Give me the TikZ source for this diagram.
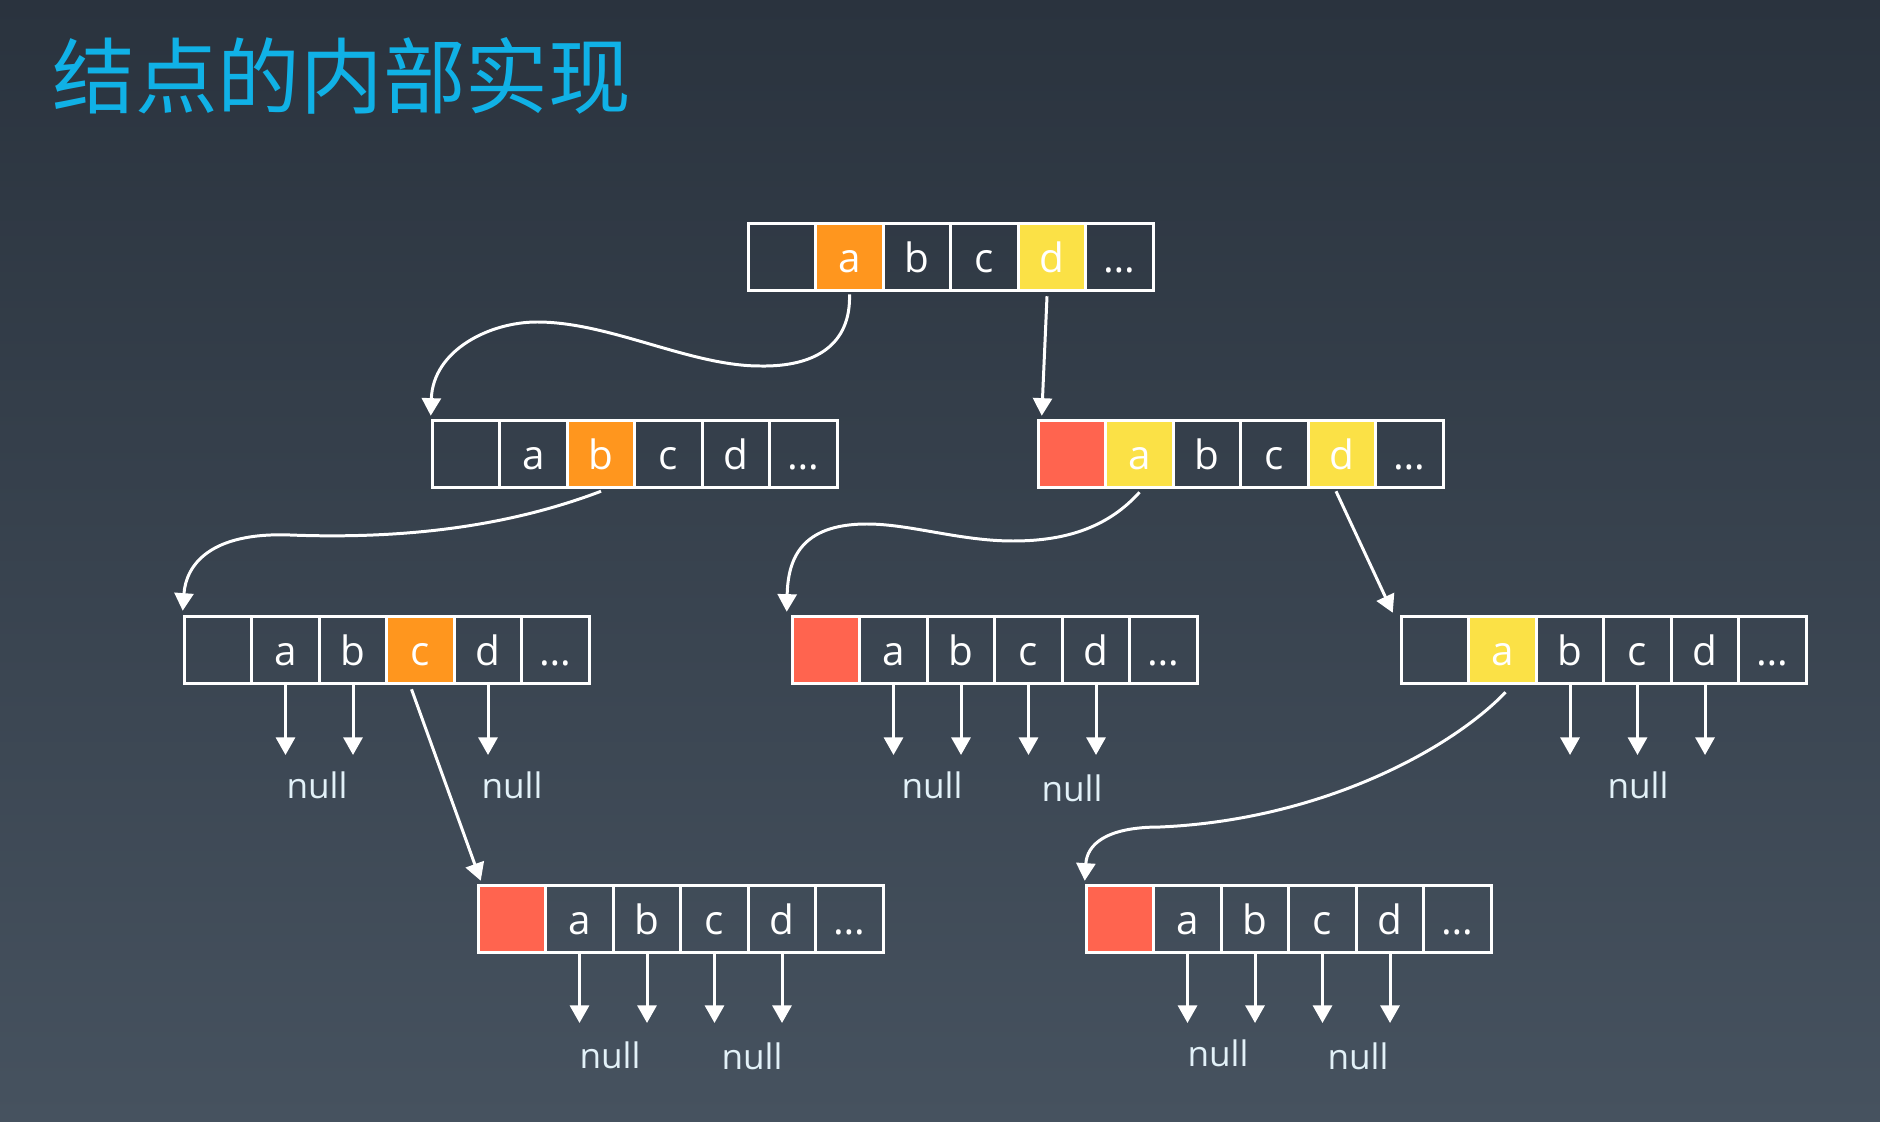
\documentclass[tikz,border=0pt]{standalone}
\usepackage{fontspec}
\setmainfont{Open Sans}
\newfontfamily\cjk{Noto Sans CJK SC}
\usetikzlibrary{arrows.meta}
\definecolor{bgTop}{HTML}{2A333E}
\definecolor{bgBot}{HTML}{46525F}
\definecolor{cOrange}{HTML}{FF961E}
\definecolor{cYellow}{HTML}{FBE146}
\definecolor{cRed}{HTML}{FF644F}
\definecolor{titleBlue}{HTML}{10B1E6}
\definecolor{nullText}{HTML}{E2F1F8}
\begin{document}
\begin{tikzpicture}[x=0.01cm, y=-0.01cm,
    cellStyle/.style={draw=white, line width=0.85pt, minimum size=0.675cm, inner sep=0pt, text=white,
        text height=8.9pt, text depth=0pt, font=\fontsize{11.5pt}{13pt}\selectfont},
    ptrStyle/.style={draw=white, line width=0.85pt, -{Triangle[length=5pt, width=5.4pt]}},
    nullStyle/.style={inner sep=0pt, text=nullText, font=\fontsize{10pt}{12pt}\selectfont}]
    \shade[top color=bgTop, bottom color=bgBot] (0,0) rectangle (1880,1122);
    \useasboundingbox (0,0) rectangle (1880,1122);

    \node[anchor=west, inner sep=0pt, text=titleBlue, font=\cjk\fontsize{23.5pt}{28pt}\selectfont] (title) at (52,76) {结点的内部实现};

    % boxes
    \foreach \lab/\col [count=\i from 0] in {/none, a/cOrange, b/none, c/none, d/cYellow, \dots/none}
        \node[cellStyle, fill=\col] (root-\i) at (782+67.5*\i, 257) {\lab};
    \foreach \lab/\col [count=\i from 0] in {/none, a/none, b/cOrange, c/none, d/none, \dots/none}
        \node[cellStyle, fill=\col] (n11-\i) at (466+67.5*\i, 454) {\lab};
    \foreach \lab/\col [count=\i from 0] in {/cRed, a/cYellow, b/none, c/none, d/cYellow, \dots/none}
        \node[cellStyle, fill=\col] (n12-\i) at (1072+67.5*\i, 454) {\lab};
    \foreach \lab/\col [count=\i from 0] in {/none, a/none, b/none, c/cOrange, d/none, \dots/none}
        \node[cellStyle, fill=\col] (n21-\i) at (218+67.5*\i, 650) {\lab};
    \foreach \lab/\col [count=\i from 0] in {/cRed, a/none, b/none, c/none, d/none, \dots/none}
        \node[cellStyle, fill=\col] (n22-\i) at (826+67.5*\i, 650) {\lab};
    \foreach \lab/\col [count=\i from 0] in {/none, a/cYellow, b/none, c/none, d/none, \dots/none}
        \node[cellStyle, fill=\col] (n23-\i) at (1435+67.5*\i, 650) {\lab};
    \foreach \lab/\col [count=\i from 0] in {/cRed, a/none, b/none, c/none, d/none, \dots/none}
        \node[cellStyle, fill=\col] (n31-\i) at (512+67.5*\i, 919) {\lab};
    \foreach \lab/\col [count=\i from 0] in {/cRed, a/none, b/none, c/none, d/none, \dots/none}
        \node[cellStyle, fill=\col] (n32-\i) at (1120+67.5*\i, 919) {\lab};

    % null pointers
    \coordinate (nil2) at (0,755);
    \coordinate (nil3) at (0,1023);
    \foreach \c in {1,2,4} \draw[ptrStyle] (n21-\c.south) -- (n21-\c.south |- nil2);
    \foreach \c in {1,2,3,4} \draw[ptrStyle] (n22-\c.south) -- (n22-\c.south |- nil2);
    \foreach \c in {2,3,4} \draw[ptrStyle] (n23-\c.south) -- (n23-\c.south |- nil2);
    \foreach \c in {1,2,3,4} \draw[ptrStyle] (n31-\c.south) -- (n31-\c.south |- nil3);
    \foreach \c in {1,2,3,4} \draw[ptrStyle] (n32-\c.south) -- (n32-\c.south |- nil3);

    \node[nullStyle] (nil21a) at (317,785) {null};
    \node[nullStyle] (nil21b) at (512,785) {null};
    \node[nullStyle] (nil22a) at (932,785) {null};
    \node[nullStyle] (nil22b) at (1072,788) {null};
    \node[nullStyle] (nil23a) at (1638,785) {null};
    \node[nullStyle] (nil31a) at (610,1055) {null};
    \node[nullStyle] (nil31b) at (752,1056) {null};
    \node[nullStyle] (nil32a) at (1218,1053) {null};
    \node[nullStyle] (nil32b) at (1358,1056) {null};

    % children
    \draw[ptrStyle] ([yshift=-0.02cm]root-1.south) .. controls (851,345) and (815,367) .. (760,366)
        .. controls (690,366) and (610,322) .. (537,322)
        .. controls (490,322) and (433,350) .. ([yshift=0.03cm]n11-0.north west);
    \draw[ptrStyle] ([xshift=-0.05cm, yshift=-0.04cm]root-4.south) -- ([xshift=0.05cm, yshift=0.03cm]n12-0.north west);
    \draw[ptrStyle] ([yshift=-0.02cm]n11-2.south) .. controls (520,522) and (420,540) .. (290,535)
        .. controls (210,532) and (186,565) .. ([yshift=0.04cm]n21-0.north west);
    \draw[ptrStyle] ([yshift=-0.03cm]n12-1.south) .. controls (1110,525) and (1070,541) .. (1013,541)
        .. controls (960,541) and (910,524) .. (867,524)
        .. controls (800,524) and (788,560) .. ([xshift=-0.04cm, yshift=0.03cm]n22-0.north west);
    \draw[ptrStyle] ([xshift=-0.06cm, yshift=-0.02cm]n12-4.south) -- ([xshift=-0.07cm, yshift=0.02cm]n23-0.north west);
    \draw[ptrStyle] ([xshift=-0.09cm, yshift=-0.04cm]n21-3.south) -- ([xshift=0.04cm, yshift=0.03cm]n31-0.north west);
    \draw[ptrStyle] ([xshift=0.03cm, yshift=-0.07cm]n23-1.south) .. controls (1450,750) and (1320,820) .. (1160,827)
        .. controls (1105,827) and (1087,845) .. ([yshift=0.03cm]n32-0.north west);
\end{tikzpicture}
\end{document}
